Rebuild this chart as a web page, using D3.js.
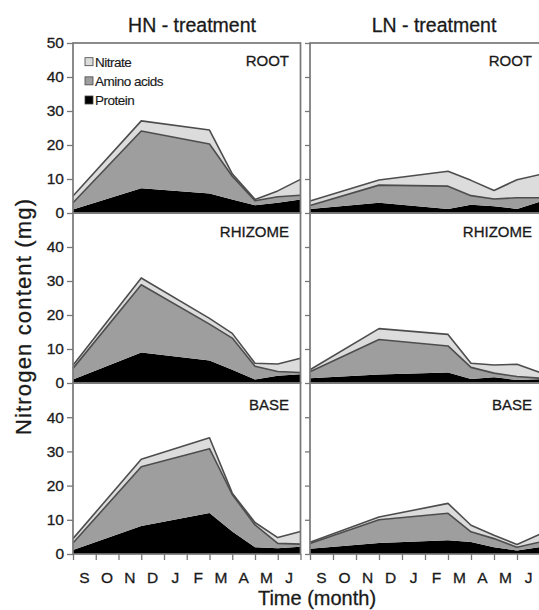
<!DOCTYPE html>
<html>
<head>
<meta charset="utf-8">
<script src="https://cdn.jsdelivr.net/npm/d3@7"></script>
<style>
  html, body { margin: 0; padding: 0; background: #fff; }
  svg { display: block; }
  text { font-family: "Liberation Sans", Arial, sans-serif; fill: #1a1a1a; stroke: #1a1a1a; stroke-width: 0.3px; }
</style>
</head>
<body>
<svg id="chart" width="539" height="610"></svg>
<script>
// ---- data ----
const monthLabels = ["S","O","N","D","J","F","M","A","M","J"];
const samplePos = [0, 3, 6, 7, 8, 9, 10];           // sampling dates (month index)
const treatments = ["HN - treatment", "LN - treatment"];
const organs = ["ROOT", "RHIZOME", "BASE"];
const legendLabels = ["Nitrate", "Amino acids", "Protein"];
const yTickValues = [0, 10, 20, 30, 40, 50];

// HN treatment (mg N)
const hnRootProtein   = [1.0, 7.3, 5.7, 4.0, 2.3, 3.0, 4.0];
const hnRootAmino     = [2.0, 16.8, 14.6, 6.8, 1.3, 1.8, 1.2];
const hnRootNitrate   = [2.0, 3.0, 4.1, 0.7, 0.4, 1.7, 4.7];
const hnRhizProtein   = [1.0, 9.0, 6.6, 3.9, 1.0, 2.1, 2.6];
const hnRhizAmino     = [3.3, 19.9, 10.7, 9.3, 3.9, 1.3, 0.5];
const hnRhizNitrate   = [0.9, 2.0, 1.7, 1.4, 0.9, 2.2, 4.2];
const hnBaseProtein   = [1.2, 8.2, 12.0, 6.6, 2.0, 1.7, 2.1];
const hnBaseAmino     = [2.0, 17.3, 18.8, 10.8, 6.5, 1.4, 0.8];
const hnBaseNitrate   = [1.3, 2.2, 3.2, 0.4, 0.7, 1.7, 3.7];
// LN treatment (mg N)
const lnRootProtein   = [1.2, 3.0, 1.2, 2.4, 2.0, 1.2, 3.3];
const lnRootAmino     = [1.0, 5.2, 6.7, 2.7, 2.1, 3.3, 1.2];
const lnRootNitrate   = [1.3, 1.5, 4.4, 4.5, 2.5, 5.3, 6.8];
const lnRhizProtein   = [1.4, 2.5, 3.1, 1.2, 1.7, 0.9, 1.1];
const lnRhizAmino     = [1.9, 10.3, 7.8, 3.4, 1.2, 1.0, 0.3];
const lnRhizNitrate   = [0.6, 3.2, 3.4, 1.2, 2.4, 3.6, 1.7];
const lnBaseProtein   = [1.5, 3.2, 4.0, 3.5, 2.0, 1.0, 2.0];
const lnBaseAmino     = [1.6, 6.8, 7.9, 3.0, 2.5, 1.0, 1.5];
const lnBaseNitrate   = [0.3, 0.8, 2.9, 1.9, 1.0, 0.8, 2.3];

const panelData = [
  [ [hnRootProtein, hnRootAmino, hnRootNitrate],
    [hnRhizProtein, hnRhizAmino, hnRhizNitrate],
    [hnBaseProtein, hnBaseAmino, hnBaseNitrate] ],
  [ [lnRootProtein, lnRootAmino, lnRootNitrate],
    [lnRhizProtein, lnRhizAmino, lnRhizNitrate],
    [lnBaseProtein, lnBaseAmino, lnBaseNitrate] ]
];

// ---- layout / style ----
const colX = [[73, 300.5], [310, 540]];
const rowY = [[43, 213], [213, 383], [383, 554]];
const labelRight = [289, 532];
const labelBase = [66, 237, 410];
const fills = { protein: "#000000", amino: "#9e9e9e", nitrate: "#dcdcdc" };
const edge = "#4d4d4d";
const frame = "#777777";

const svg = d3.select("#chart");
const keys = ["protein", "amino", "nitrate"];

treatments.forEach((t, c) => {
  const x = d3.scaleLinear().domain([0, 10]).range(colX[c]);
  svg.append("text")
    .attr("x", c === 0 ? 192 : 434).attr("y", 31.5)
    .attr("text-anchor", "middle")
    .style("font-size", "19.5px")
    .text(t);

  organs.forEach((org, r) => {
    const y = d3.scaleLinear().domain([0, 50]).range([rowY[r][1], rowY[r][0]]);
    const [p, a, n] = panelData[c][r];
    const rows = samplePos.map((pos, i) => ({ pos, protein: p[i], amino: a[i], nitrate: n[i] }));
    const stack = d3.stack().keys(keys)(rows);
    const area = d3.area().x(d => x(d.data.pos)).y0(d => y(d[0])).y1(d => y(d[1]));
    const topLine = d3.line().x(d => x(d.data.pos)).y(d => y(d[1]));
    const g = svg.append("g");

    g.selectAll("path.area").data(stack).join("path")
      .attr("class", "area")
      .attr("d", area)
      .attr("fill", d => fills[d.key]);
    g.selectAll("path.top").data(stack.filter(s => s.key !== "protein")).join("path")
      .attr("class", "top")
      .attr("d", topLine)
      .attr("fill", "none")
      .attr("stroke", edge)
      .attr("stroke-width", 1.6)
      .attr("stroke-linejoin", "round");

    // y axis
    const ticks = r === 0 ? yTickValues : yTickValues.slice(0, 5);
    const yAxis = d3.axisLeft(y).tickValues(ticks).tickSize(c === 0 ? 6 : 5).tickPadding(3)
      .tickFormat(c === 0 ? d3.format("d") : () => "");
    const ga = svg.append("g").attr("transform", `translate(${colX[c][0]},0)`).call(yAxis);
    ga.select(".domain").remove();
    ga.selectAll("line").attr("stroke", frame).attr("stroke-width", 1.3);
    ga.selectAll("text").style("font-size", "15.5px").attr("fill", "#1a1a1a")
      .style("font-family", "'Liberation Sans', Arial, sans-serif");

    // frame
    svg.append("rect")
      .attr("x", colX[c][0]).attr("y", rowY[r][0])
      .attr("width", colX[c][1] - colX[c][0]).attr("height", rowY[r][1] - rowY[r][0])
      .attr("fill", "none").attr("stroke", frame).attr("stroke-width", 1.7);

    svg.append("text")
      .attr("x", labelRight[c]).attr("y", labelBase[r])
      .attr("text-anchor", "end")
      .style("font-size", "15px")
      .text(org);
  });

  // x axis
  const xAxis = d3.axisBottom(x).tickValues(d3.range(0, 11)).tickSize(6).tickFormat("");
  const gx = svg.append("g").attr("transform", `translate(0,${rowY[2][1]})`).call(xAxis);
  gx.select(".domain").remove();
  gx.selectAll("line").attr("stroke", frame).attr("stroke-width", 1.3);
  svg.append("g").selectAll("text").data(monthLabels).join("text")
    .attr("x", (d, i) => x(i + 0.5)).attr("y", 583)
    .attr("text-anchor", "middle")
    .style("font-size", "15.5px")
    .text(d => d);
});

// legend
const legFill = [fills.nitrate, fills.amino, fills.protein];
const legY = d3.scalePoint().domain(legendLabels).range([61.7, 100]);
const leg = svg.append("g");
leg.selectAll("rect").data(legendLabels).join("rect")
  .attr("x", 85).attr("y", d => legY(d) - 4)
  .attr("width", 8).attr("height", 8)
  .attr("fill", (d, i) => legFill[i]).attr("stroke", "#444").attr("stroke-width", 0.8);
leg.selectAll("text").data(legendLabels).join("text")
  .attr("x", 95).attr("y", d => legY(d) + 5)
  .style("font-size", "13.5px").style("letter-spacing", "-0.5px")
  .style("stroke-width", "0.15px")
  .text(d => d);

// axis titles
svg.append("text")
  .attr("x", 317).attr("y", 605)
  .attr("text-anchor", "middle")
  .style("font-size", "20px")
  .text("Time (month)");
svg.append("text")
  .attr("transform", "translate(31,317) rotate(-90)")
  .attr("text-anchor", "middle")
  .style("font-size", "22px")
  .attr("textLength", 236)
  .text("Nitrogen content (mg)");
</script>
</body>
</html>
